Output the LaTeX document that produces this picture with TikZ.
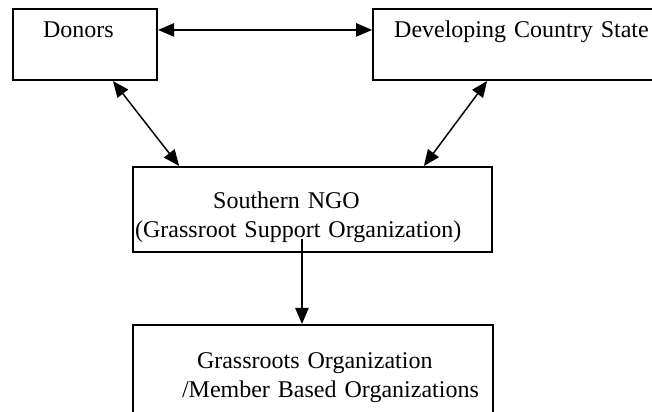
\documentclass[tikz,border=0pt]{standalone}
\usepackage{fontspec}
\setmainfont{Liberation Serif}
\usetikzlibrary{arrows.meta,positioning}

\begin{document}
\begin{tikzpicture}[x=0.75pt, y=-0.75pt, line width=1.1pt,]
   \tikzstyle{box}=[rectangle, draw=black, line width=1.6pt, inner sep=0pt, align=left, font=\fontsize{18}{23}\selectfont, anchor=center]
   \tikzstyle{both}=[{Triangle[length=12pt,width=10pt]}-{Triangle[length=12pt,width=10pt]}]
   \tikzstyle{down}=[-{Triangle[length=12pt,width=10pt]}]
   \useasboundingbox (0,0) rectangle (652,411);

   \node[box, text width=63pt, inner xsep=22.5pt, text height=21pt, text depth=32.25pt] (donors) at (85,44.5) {Donors};
   \node[box, text width=191pt, inner xsep=15.75pt, text height=21pt, text depth=32.25pt] (state) at (521.5,44.5) {Developing Country State};
   \node[box, text width=266pt, inner xsep=1.5pt, text height=30.75pt, text depth=33pt, font=\fontsize{18}{22}\selectfont] (ngo) at (312.5,209.5) {\hspace*{58.5pt}Southern NGO\\(Grassroot Support Organization)};
   \node[box, text width=267pt, inner xsep=1.5pt, text height=32.25pt, text depth=39pt, font=\fontsize{18}{21.75}\selectfont] (grassroots) at (313,372.5) {\hspace*{46.5pt}Grassroots Organization\\\hspace*{35.25pt}/Member Based Organizations};

   \coordinate (ngo_out) at ([xshift=-7.9pt, yshift=10.5pt]ngo.south);

   \path

  ([yshift=-16.5pt]donors.north east)
    edge [both] ([yshift=-16.5pt]state.north west)
  ([xshift=21pt]donors.south)
    edge [both] ([xshift=35.25pt]ngo.north west)
  ([xshift=86.25pt]state.south west)
    edge [both] ([xshift=-51.75pt]ngo.north east)
  (ngo_out)
    edge [down] (grassroots.north -| ngo_out)
   ;
\end{tikzpicture}
\end{document}
